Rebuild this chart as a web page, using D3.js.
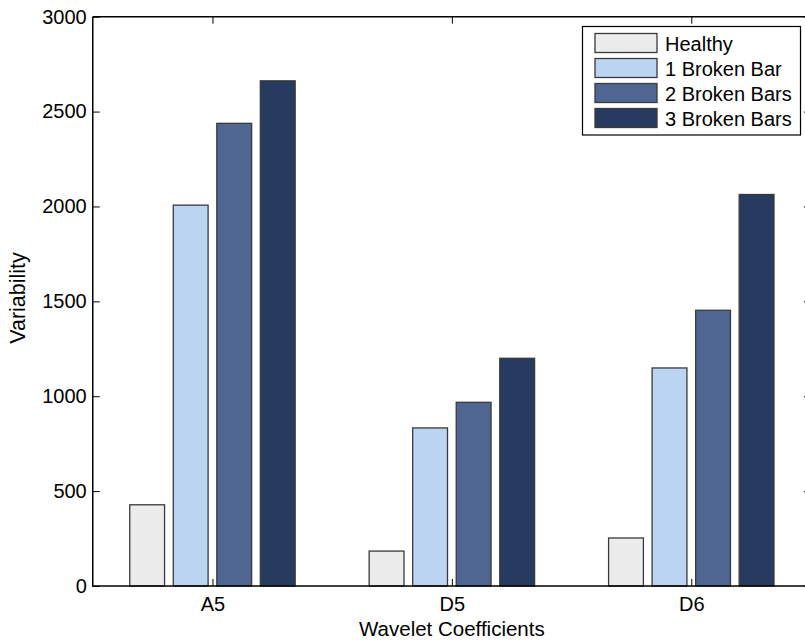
<!DOCTYPE html>
<html>
<head>
<meta charset="utf-8">
<script src="https://cdn.jsdelivr.net/npm/d3@7"></script>
<style>
  html, body { margin: 0; padding: 0; background: #fff; }
  svg { display: block; font-family: "Liberation Sans", Arial, Helvetica, sans-serif; }
</style>
</head>
<body>
<svg id="chart" width="805" height="641"></svg>
<script>
// Wavelet coefficient variability for each rotor condition
const categories = ["A5", "D5", "D6"];
const seriesNames = ["Healthy", "1 Broken Bar", "2 Broken Bars", "3 Broken Bars"];
const healthy     = [428, 184, 253];
const broken1     = [2007, 833, 1149];
const broken2     = [2438, 968, 1453];
const broken3     = [2662, 1200, 2063];
const yTicks      = [0, 500, 1000, 1500, 2000, 2500, 3000];
const colors      = ["#ececec", "#bad4f1", "#4f6592", "#273a60"];

const seriesValues = [healthy, broken1, broken2, broken3];

const svg = d3.select("#chart");
const plot = { left: 92.75, right: 811, top: 16.7, bottom: 586 };
const tickFont = 20;
const tickLen = 7;

const x0 = d3.scaleBand().domain(categories).range([plot.left, plot.right]).padding(0);
const groupWidth = x0.bandwidth() * Math.min(0.8, seriesNames.length / (seriesNames.length + 1.5));
const x1 = d3.scaleBand().domain(seriesNames)
  .range([-groupWidth / 2, groupWidth / 2])
  .paddingInner(0.2).paddingOuter(0.1);
const y = d3.scaleLinear().domain([0, 3000]).range([plot.bottom, plot.top]);

// bars
const rows = categories.map((c, i) => ({ cat: c, vals: seriesNames.map((s, j) => ({ s, j, v: seriesValues[j][i] })) }));
const groups = svg.append("g").selectAll("g").data(rows).join("g")
  .attr("transform", d => `translate(${x0(d.cat) + x0.bandwidth() / 2},0)`);
groups.selectAll("rect").data(d => d.vals).join("rect")
  .attr("x", d => x1(d.s))
  .attr("width", x1.bandwidth())
  .attr("y", d => y(d.v))
  .attr("height", d => y(0) - y(d.v))
  .attr("fill", d => colors[d.j])
  .attr("stroke", "#3a3a3a")
  .attr("stroke-width", 1.3);

// axes box
const axisG = svg.append("g");
axisG.append("path")
  .attr("d", `M${plot.left},${plot.top}H${plot.right}M${plot.left},${plot.top}V${plot.bottom}H${plot.right}V${plot.top}`)
  .attr("fill", "none").attr("stroke", "#000").attr("stroke-width", 1.5);

// left y axis
const yAxis = d3.axisLeft(y).tickValues(yTicks).tickSize(-tickLen).tickPadding(6).tickFormat(d3.format("d"));
const ya = axisG.append("g").attr("transform", `translate(${plot.left},0)`).call(yAxis);
ya.select(".domain").remove();
ya.selectAll("line").attr("stroke", "#000");
ya.selectAll("text").attr("font-size", tickFont).attr("fill", "#000").attr("font-family", null);

// right y axis ticks
const yr = axisG.append("g").attr("transform", `translate(${plot.right},0)`)
  .call(d3.axisRight(y).tickValues(yTicks).tickSize(-tickLen).tickFormat(""));
yr.select(".domain").remove();
yr.selectAll("line").attr("stroke", "#000");

// bottom x axis
const xCenter = d3.scalePoint().domain(categories).range([x0("A5") + x0.bandwidth() / 2, x0("D6") + x0.bandwidth() / 2]);
const xa = axisG.append("g").attr("transform", `translate(0,${plot.bottom})`)
  .call(d3.axisBottom(xCenter).tickSize(-tickLen).tickPadding(11));
xa.select(".domain").remove();
xa.selectAll("line").attr("stroke", "#000");
xa.selectAll("text").attr("font-size", tickFont).attr("fill", "#000").attr("font-family", null);

// top x ticks
const xt = axisG.append("g").attr("transform", `translate(0,${plot.top})`)
  .call(d3.axisTop(xCenter).tickSize(-tickLen).tickFormat(""));
xt.select(".domain").remove();
xt.selectAll("line").attr("stroke", "#000");

// axis titles
svg.append("text")
  .attr("x", xCenter("D5"))
  .attr("y", 636)
  .attr("text-anchor", "middle")
  .attr("font-size", 20.5)
  .text("Wavelet Coefficients");
svg.append("text")
  .attr("transform", `translate(25,298) rotate(-90)`)
  .attr("text-anchor", "middle")
  .attr("font-size", 21.5)
  .text("Variability");

// legend
const legend = svg.append("g");
legend.append("rect")
  .attr("x", 582.5).attr("y", 26.5).attr("width", 218).attr("height", 108.5)
  .attr("fill", "#fff").attr("stroke", "#000").attr("stroke-width", 1.2);
const items = legend.selectAll("g.item").data(seriesNames).join("g").attr("class", "item")
  .attr("transform", (d, i) => `translate(595,${33.5 + i * 25})`);
items.append("rect")
  .attr("width", 62).attr("height", 19)
  .attr("fill", (d, i) => colors[i])
  .attr("stroke", "#3a3a3a").attr("stroke-width", 1.3);
items.append("text")
  .attr("x", 70).attr("y", 17)
  .attr("font-size", tickFont)
  .text(d => d);
</script>
</body>
</html>
